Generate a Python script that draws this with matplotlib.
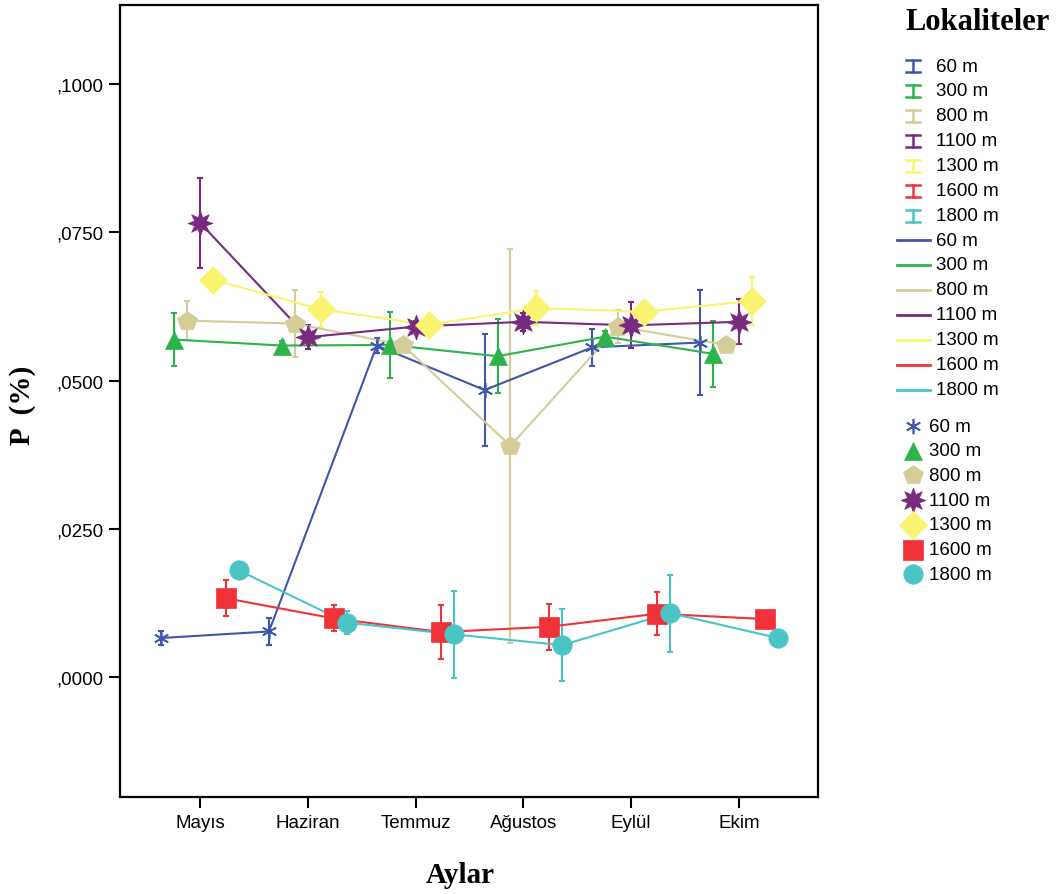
import numpy as np
import matplotlib.pyplot as plt
from matplotlib.ticker import FuncFormatter

plt.rcParams['font.family'] = ['Liberation Sans', 'DejaVu Sans']

months = ["Mayıs", "Haziran", "Temmuz", "Ağustos", "Eylül", "Ekim"]
sites = ["60 m", "300 m", "800 m", "1100 m", "1300 m", "1600 m", "1800 m"]

# mean P (%) per month and the half-width of each error bar
p_60 = [0.0066, 0.0077, 0.0559, 0.0484, 0.0556, 0.0564]
err_60 = [0.0012, 0.0022, 0.0013, 0.0095, 0.0031, 0.0088]
p_300 = [0.0569, 0.0559, 0.0560, 0.0541, 0.0574, 0.0545]
err_300 = [0.0045, 0.0008, 0.0055, 0.0062, 0.0010, 0.0056]
p_800 = [0.0601, 0.0596, 0.0560, 0.0390, 0.0591, 0.0560]
err_800 = [0.0033, 0.0057, 0.0008, 0.0332, 0.0028, 0.0]
p_1100 = [0.0766, 0.0573, 0.0591, 0.0599, 0.0593, 0.0599]
err_1100 = [0.0076, 0.0020, 0.0010, 0.0015, 0.0039, 0.0038]
p_1300 = [0.0670, 0.0620, 0.0594, 0.0622, 0.0616, 0.0634]
err_1300 = [0.0, 0.0029, 0.0008, 0.0029, 0.0008, 0.0041]
p_1600 = [0.0133, 0.0099, 0.0076, 0.0085, 0.0107, 0.0098]
err_1600 = [0.0030, 0.0022, 0.0045, 0.0039, 0.0036, 0.0]
p_1800 = [0.0180, 0.0092, 0.0072, 0.0054, 0.0108, 0.0066]
err_1800 = [0.0, 0.0020, 0.0073, 0.0061, 0.0065, 0.0]

means = [p_60, p_300, p_800, p_1100, p_1300, p_1600, p_1800]
errs = [err_60, err_300, err_800, err_1100, err_1300, err_1600, err_1800]

colors = ["#3E57AA", "#2EB34A", "#D4CD98", "#772A7E", "#F9F46F", "#EF3339", "#4BC4C6"]
markers = [(6, 2, 0), "^", "p", (8, 1, 0), "D", "s", "o"]
msizes = [11, 13, 14.5, 18, 14, 14, 14]

W, H = 1061, 895
fig = plt.figure(figsize=(W / 100, H / 100), dpi=100)
ax = fig.add_axes([120 / W, 97 / H, 698 / W, 792 / H])

x = np.arange(len(months))
offsets = (np.arange(len(sites)) - 3) * 0.12

for i in range(len(sites)):
    xs = x + offsets[i]
    c = colors[i]
    ax.errorbar(xs, means[i], yerr=errs[i], fmt='none', ecolor=c,
                elinewidth=1.5, capsize=2.0, capthick=1.5, zorder=2)
    ax.plot(xs, means[i], color=c, lw=1.5, zorder=3)
    if i == 0:
        ax.plot(xs, means[i], ls='none', marker=markers[i], ms=msizes[i],
                color=c, mew=1.2, zorder=4)
    else:
        ax.plot(xs, means[i], ls='none', marker=markers[i], ms=msizes[i],
                color=c, mec=c, mew=0.5, zorder=4 + i * 0.01)

ax.set_xlim(-0.742, 5.733)
ax.set_ylim(-0.0202, 0.1133)
ax.set_xticks(x)
ax.set_xticklabels(months)
ax.set_yticks([0.0, 0.025, 0.05, 0.075, 0.1])
ax.yaxis.set_major_formatter(FuncFormatter(lambda v, _: f"{v:.4f}".replace("0.", ",")))
ax.tick_params(direction='out', length=8, width=1.5, labelsize=13.5, pad=4)
for s in ax.spines.values():
    s.set_linewidth(1.6)

serif = dict(family=['Liberation Serif', 'DejaVu Serif'], weight='bold')
fig.text(460 / W, 1 - 876 / H, "Aylar", ha='center', va='center', size=21, **serif)
fig.text(23 / W, 1 - 405 / H, "P  (%)", ha='center', va='center', rotation=90, size=21, **serif)
fig.text(905 / W, 1 - 22 / H, "Lokaliteler", ha='left', va='center', size=22, **serif)

# legend drawn by hand in pixel coordinates: error bars, lines, markers
lg = fig.add_axes([0, 0, 1, 1])
lg.set_xlim(0, W)
lg.set_ylim(H, 0)
lg.axis('off')
lg.patch.set_alpha(0)

for i, name in enumerate(sites):
    c = colors[i]
    y = 67 + 24.95 * i
    lg.plot([913, 913], [y - 6, y + 6], color=c, lw=1.8)
    lg.plot([906, 920], [y - 6, y - 6], color=c, lw=1.8)
    lg.plot([906, 920], [y + 6, y + 6], color=c, lw=1.8)
    lg.text(936, y, name, va='center', ha='left', fontsize=13.5)

    y = 241 + 24.95 * i
    lg.plot([897, 930], [y, y], color=c, lw=2)
    lg.text(936, y, name, va='center', ha='left', fontsize=13.5)

    y = 427 + 24.7 * i
    if i == 0:
        lg.plot(913, y, marker=markers[i], ms=msizes[i], color=c, mew=1.2)
    else:
        lg.plot(913, y, marker=markers[i], ms=msizes[i], color=c, mec=c, mew=0.5)
    lg.text(929, y, name, va='center', ha='left', fontsize=13.5)

fig.savefig("out.png", dpi=100)
